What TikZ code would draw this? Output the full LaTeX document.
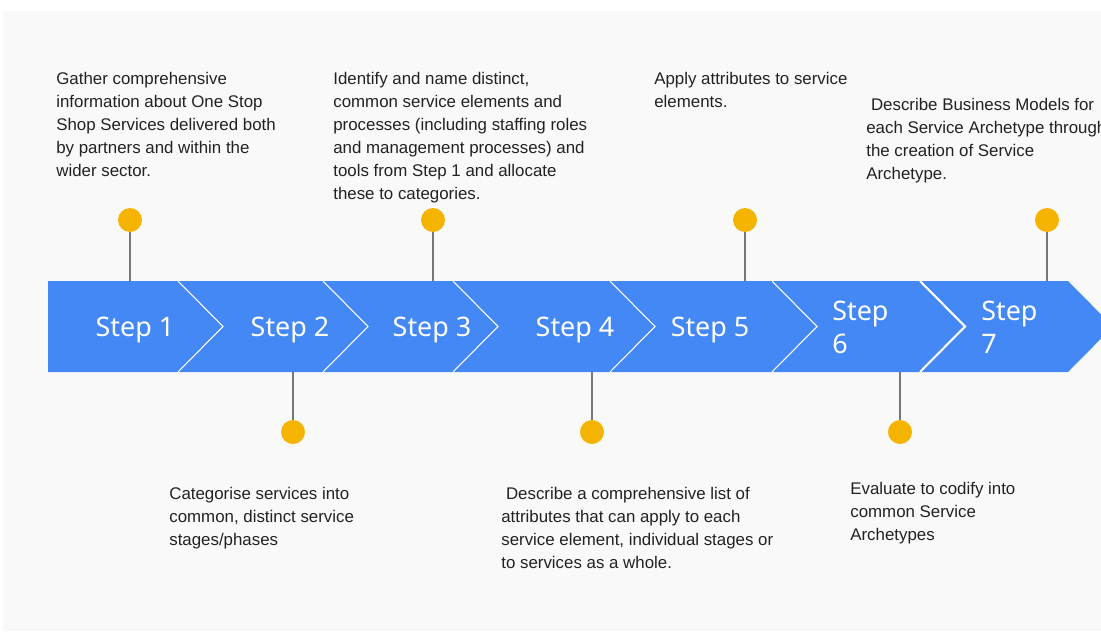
\documentclass[tikz,border=0pt]{standalone}
\usepackage{fontspec}
\setmainfont{Liberation Sans}
\newfontfamily\stepfont{Noto Sans}
\usepackage{tikz}
\usetikzlibrary{positioning}
\usepackage{xcolor}

\definecolor{bandblue}{HTML}{4388F5}
\definecolor{dotyellow}{HTML}{F4B400}
\definecolor{pagegray}{HTML}{F9F9F9}
\definecolor{inkgray}{HTML}{222222}
\definecolor{stemgray}{HTML}{777777}

\begin{document}
\begin{tikzpicture}[
        x=0.02cm, y=-0.02cm,
        steplabel/.style={text=white, font=\stepfont\fontsize{15.3}{18.7}\selectfont, inner sep=0pt},
        steplabel2/.style={steplabel, anchor=west, align=left},
        note/.style={anchor=north west, align=left, inner sep=0pt, text=inkgray, font=\fontsize{9.6}{13.1}\selectfont},
        dot/.style={circle, fill=dotyellow, minimum size=0.48cm, inner sep=0pt},
        stem/.style={draw=stemgray, line width=0.85pt},
        notch/.style={draw=white, line width=0.6pt}
    ]

    % Page background
    \useasboundingbox (0,0) rectangle (1101,632);
    \fill[pagegray] (3,11) rectangle (1101,631);

    % Arrow band
    \fill[bandblue] (48,281) -- (1068,281) -- (1113,326.5) -- (1068,372) -- (48,372) -- cycle;

    % Chevron separators between the steps
    \draw[notch] (178,281) -- (223,326.5) -- (178,372);
    \draw[notch] (323,281) -- (368,326.5) -- (323,372);
    \draw[notch] (453,281) -- (498,326.5) -- (453,372);
    \draw[notch] (610,281) -- (655,326.5) -- (610,372);
    \draw[notch] (772,281) -- (817,326.5) -- (772,372);
    \draw[notch, line width=1.2pt] (920,281) -- (965,326.5) -- (920,372);

    % Step labels
    \node[steplabel] (s1) at (135,330) {Step 1};
    \node[steplabel] (s2) at (290,330) {Step 2};
    \node[steplabel] (s3) at (432,330) {Step 3};
    \node[steplabel] (s4) at (575,330) {Step 4};
    \node[steplabel] (s5) at (710,330) {Step 5};
    \node[steplabel2] (s6) at (832,327) {Step\\6};
    \node[steplabel2] (s7) at (981,327) {Step\\7};

    % Where the stems meet the band
    \coordinate (e1) at (130,281);
    \coordinate (e2) at (293,372);
    \coordinate (e3) at (433,281);
    \coordinate (e4) at (592,372);
    \coordinate (e5) at (745,281);
    \coordinate (e6) at (900,372);
    \coordinate (e7) at (1047,281);

    % Markers
    \node[dot] (d1) at (130,220) {};
    \node[dot] (d2) at (293,432) {};
    \node[dot] (d3) at (433,220) {};
    \node[dot] (d4) at (592,432) {};
    \node[dot] (d5) at (745,220) {};
    \node[dot] (d6) at (900,432) {};
    \node[dot] (d7) at (1047,220) {};

    \draw[stem] (d1) -- (e1);
    \draw[stem] (d2) -- (e2);
    \draw[stem] (d3) -- (e3);
    \draw[stem] (d4) -- (e4);
    \draw[stem] (d5) -- (e5);
    \draw[stem] (d6) -- (e6);
    \draw[stem] (d7) -- (e7);

    % Descriptions above the band
    \node[note] (t1) at (56,72) {Gather comprehensive\\information about One Stop\\Shop Services delivered both\\by partners and within the\\wider sector.};
    \node[note] (t3) at (333,72) {Identify and name distinct,\\common service elements and\\processes (including staffing roles\\and management processes) and\\tools from Step 1 and allocate\\these to categories.};
    \node[note] (t5) at (654,72) {Apply attributes to service\\elements.};
    \node[note] (t7) at (866,98) {\ Describe Business Models for\\each Service Archetype through\\the creation of Service\\Archetype.};

    % Descriptions below the band
    \node[note] (t2) at (169,487) {Categorise services into\\common, distinct service\\stages/phases};
    \node[note] (t4) at (501,487) {\ Describe a comprehensive list of\\attributes that can apply to each\\service element, individual stages or\\to services as a whole.};
    \node[note] (t6) at (850,482) {Evaluate to codify into\\common Service\\Archetypes};

\end{tikzpicture}
\end{document}
